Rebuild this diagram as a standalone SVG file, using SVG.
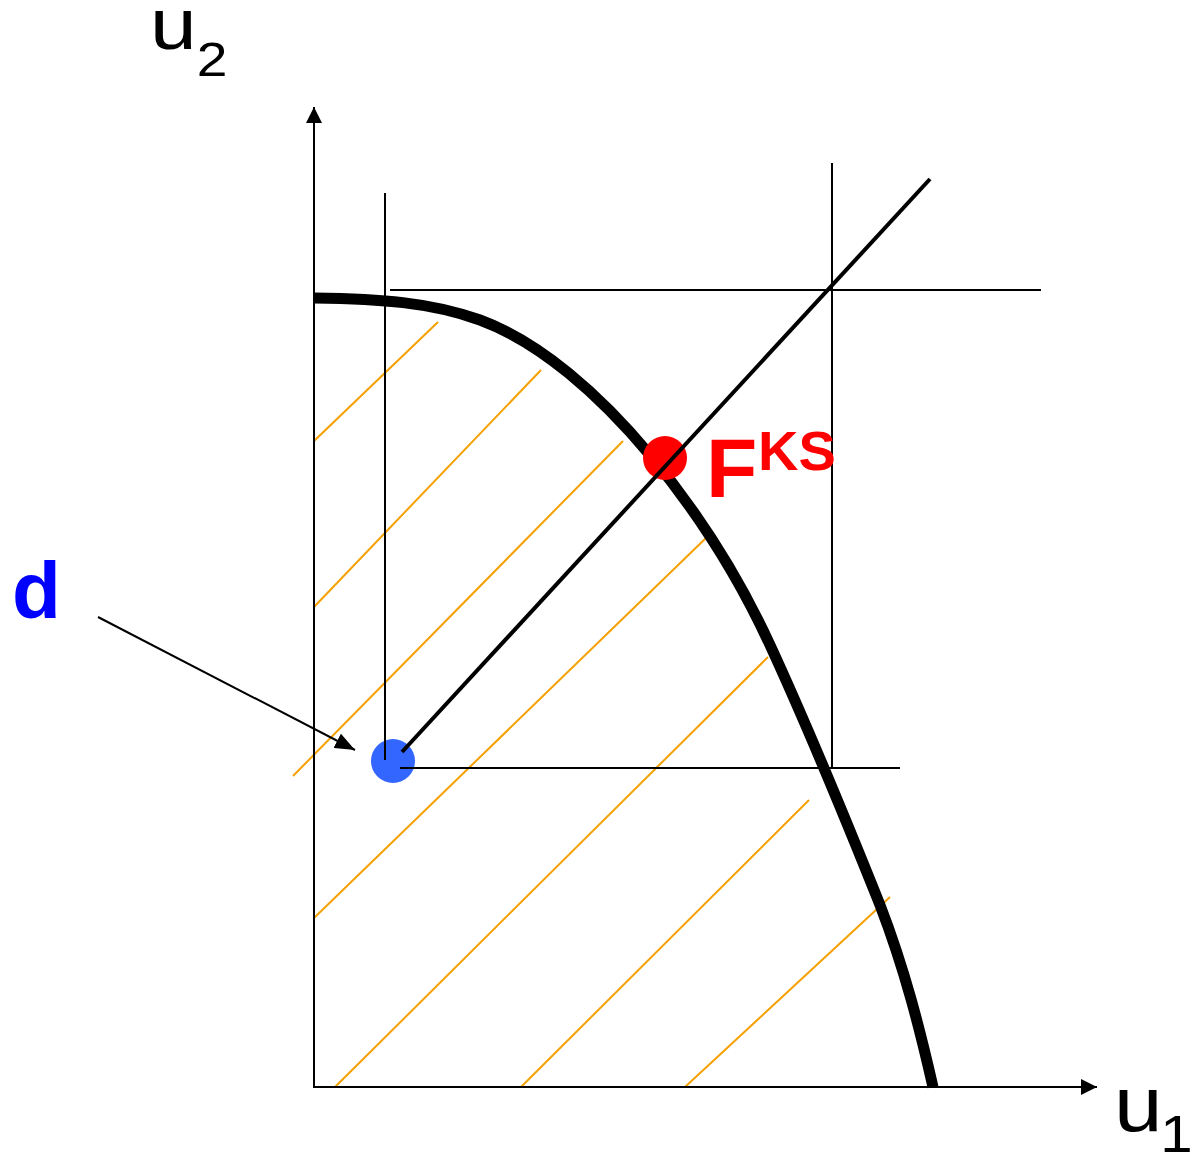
<svg xmlns="http://www.w3.org/2000/svg" width="1196" height="1161" viewBox="0 0 1196 1161">
<style>
.hatch{stroke:#f5a000;stroke-width:2;fill:none}
.thin{stroke:#000;stroke-width:2;fill:none}
.lbl{font-family:"Liberation Sans",Arial,sans-serif}
</style>
<defs>
<marker id="ax" viewBox="0 0 16 16" refX="16" refY="8" markerWidth="16" markerHeight="16" orient="auto" markerUnits="userSpaceOnUse">
<path d="M0,0 L16,8 L0,16 Z" fill="#000"/>
</marker>
<marker id="ad" viewBox="0 0 20 16" refX="20" refY="8" markerWidth="20" markerHeight="16" orient="auto" markerUnits="userSpaceOnUse">
<path d="M0,0 L20,8 L0,16 Z" fill="#000"/>
</marker>
</defs>
<g id="hatching">
<line class="hatch" x1="314" y1="441" x2="438" y2="322"/>
<line class="hatch" x1="314" y1="607" x2="541" y2="370"/>
<line class="hatch" x1="293" y1="776" x2="623" y2="441"/>
<line class="hatch" x1="314" y1="918" x2="706" y2="538"/>
<line class="hatch" x1="335" y1="1087" x2="768" y2="657"/>
<line class="hatch" x1="521" y1="1087" x2="809" y2="800"/>
<line class="hatch" x1="685" y1="1087" x2="890" y2="897"/>
</g>
<g id="frontier">
<path d="M314,298 C380,299 430,302 480,320 C540,342 600,395 650,455 C700,515 740,580 770,645 C800,710 830,780 880,905 C905,970 920,1030 933,1087" fill="none" stroke="#000" stroke-width="11"/>
</g>
<g id="d-point">
<circle cx="393" cy="761" r="22" fill="#3366ff"/>
</g>
<g id="fks-point">
<circle cx="665" cy="458" r="22" fill="#ff0000"/>
</g>
<g id="connectors">
<line class="thin" x1="314" y1="1088" x2="314" y2="107" marker-end="url(#ax)"/>
<line class="thin" x1="313" y1="1087" x2="1097" y2="1087" marker-end="url(#ax)"/>
<line class="thin" x1="385" y1="193" x2="385" y2="760"/>
<line class="thin" x1="832" y1="163" x2="832" y2="768"/>
<line class="thin" x1="390" y1="290" x2="1041" y2="290"/>
<line class="thin" x1="400" y1="768" x2="900" y2="768"/>
<line x1="402" y1="752" x2="930" y2="179" stroke="#000" stroke-width="4"/>
<line class="thin" x1="98" y1="617" x2="355" y2="750" marker-end="url(#ad)"/>
</g>
<g id="labels">
<text class="lbl" x="706" y="497" font-size="84" font-weight="bold" fill="#ff0000">F<tspan x="758" y="470" font-size="56">KS</tspan></text>
<text class="lbl" x="12" y="618" font-size="80" font-weight="bold" fill="#0000ff">d</text>
<text class="lbl" transform="translate(150,49) scale(1.15,1)" font-size="73" fill="#000">u<tspan dy="27" font-size="48">2</tspan></text>
<text class="lbl" transform="translate(1114,1131) scale(1.12,1)" font-size="78" fill="#000">u<tspan dx="-2" dy="21" font-size="52">1</tspan></text>
</g>
</svg>
